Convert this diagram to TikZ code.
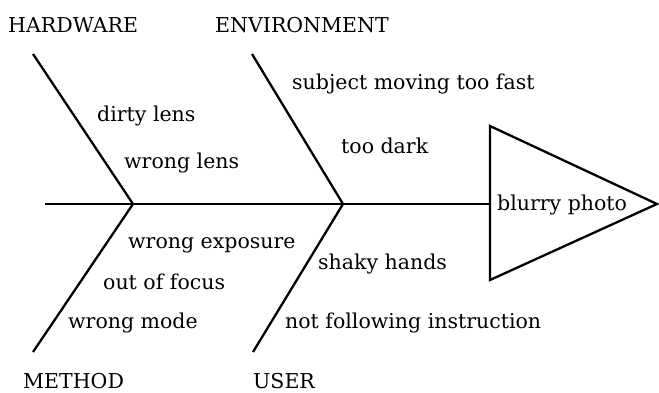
\documentclass[tikz,border=0pt]{standalone}
\usepackage{fontspec}
\setmainfont{DejaVu Serif}
\tikzset{
  lbl/.style={anchor=mid west, inner sep=0pt, yshift=-3.5pt, font=\fontsize{20.5}{24}\selectfont},
  cat/.style={anchor=base west, inner sep=0pt, font=\fontsize{20.5}{24}\selectfont},
  bone/.style={line width=2.3pt},
}
\begin{document}
\begin{tikzpicture}[x=1pt,y=-1pt]
\useasboundingbox (0,0) rectangle (659,393);
% spine and head
\coordinate (tail) at (45,204);
\coordinate (j1) at (133,204);
\coordinate (j2) at (343,204);
\coordinate (tl) at (490,126);
\coordinate (tb) at (490,280);
\coordinate (tip) at (657,204);
\draw[bone, line join=miter] (tl) -- (tip) -- (tb) -- cycle;
\draw[bone] (tail) -- (j1) -- (j2) -- (tl |- j2);
% bones
\coordinate (hw) at (33,54);
\coordinate (env) at (252,54);
\coordinate (me) at (33,352);
\coordinate (us) at (253,352);
\draw[bone] (hw) -- (j1) -- (me);
\draw[bone] (env) -- (j2) -- (us);
% labels
\node[cat] (HW) at (8,33) {HARDWARE};
\node[cat] (EN) at (215,33) {ENVIRONMENT};
\node[cat] (ME) at (23,388) {METHOD};
\node[cat] (US) at (253,388) {USER};
\node[lbl] (a) at (97,115) {dirty lens};
\node[lbl] (b) at (124,162) {wrong lens};
\node[lbl] (c) at (292,83) {subject moving too fast};
\node[lbl] (d) at (341,147) {too dark};
\node[lbl] (e) at (497,204) {blurry photo};
\node[lbl] (f) at (128,242) {wrong exposure};
\node[lbl] (g) at (103,283) {out of focus};
\node[lbl] (h) at (68,322) {wrong mode};
\node[lbl] (i) at (318,263) {shaky hands};
\node[lbl] (k) at (285,322) {not following instruction};
\end{tikzpicture}
\end{document}
